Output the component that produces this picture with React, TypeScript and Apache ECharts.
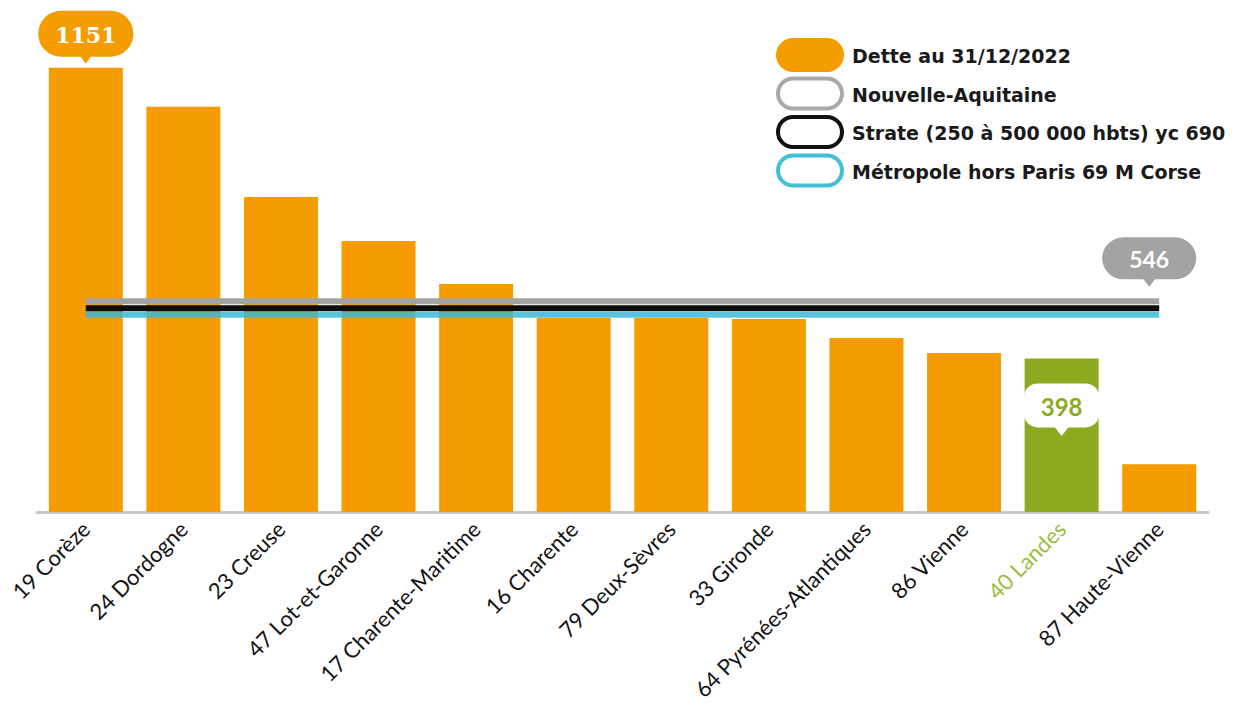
import React, { useEffect, useRef } from "react";
import * as echarts from "echarts";

const categories = [
  "19 Corèze",
  "24 Dordogne",
  "23 Creuse",
  "47 Lot-et-Garonne",
  "17 Charente-Maritime",
  "16 Charente",
  "79 Deux-Sèvres",
  "33 Gironde",
  "64 Pyrénées-Atlantiques",
  "86 Vienne",
  "40 Landes",
  "87 Haute-Vienne",
];
const dette = [1151, 1050, 816, 702, 591, 503, 503, 500, 451, 412, 398, 124];
const highlightIndex = 10;
const maxIndex = 0;
const nouvelleAquitaine = 546;
const strate = 528;
const metropole = 511;

const legendItems = [
  { name: "Dette au 31/12/2022", fill: "#F59C00", stroke: "#F59C00" },
  { name: "Nouvelle-Aquitaine", fill: "#ffffff", stroke: "#a9a9a9" },
  { name: "Strate (250 à 500 000 hbts) yc 690", fill: "#ffffff", stroke: "#111111" },
  { name: "Métropole hors Paris 69 M Corse", fill: "#ffffff", stroke: "#45bfd6" },
];

const ORANGE = "#F59C00";
const GREEN = "#8BAA1F";
const GREY = "#a3a3a3";

export default function App() {
  const ref = useRef<HTMLDivElement>(null);
  useEffect(() => {
    document.body.style.margin = "0";
    const chart = echarts.init(ref.current!, null, { renderer: "svg" });
    const barData = dette.map((v, i) => {
      if (i === maxIndex) {
        return {
          value: v,
          label: {
            show: true,
            position: "top",
            distance: 11,
            formatter: "{c}",
            backgroundColor: ORANGE,
            borderRadius: 23,
            padding: [10, 17, 8, 17],
            color: "#fff",
            fontSize: 22,
            lineHeight: 28,
            fontWeight: "bold",
            fontFamily: "DejaVu Serif",
          },
        };
      }
      if (i === highlightIndex) {
        return {
          value: v,
          itemStyle: { color: GREEN },
          label: {
            show: true,
            position: "insideTop",
            distance: 25,
            formatter: "{c}",
            backgroundColor: "#fff",
            borderRadius: 14,
            padding: [9, 17, 7, 17],
            color: GREEN,
            fontSize: 24,
            lineHeight: 28,
            fontWeight: "bold",
            fontFamily: "Lato",
          },
        };
      }
      return v;
    });
    const lineSeries = (name: string, value: number, color: string, opacity: number, extra: any = {}) => ({
      name,
      type: "line",
      data: categories.map(() => value),
      symbol: "none",
      lineStyle: { color, width: 6, opacity },
      z: 5,
      silent: true,
      ...extra,
    });
    const option: any = {
      animation: false,
      grid: { left: 37, right: 40, top: 20, bottom: 210 },
      xAxis: {
        type: "category",
        data: categories.map((c, i) =>
          i === highlightIndex ? { value: c, textStyle: { color: "#9dbb3c" } } : c
        ),
        axisTick: { show: false },
        axisLine: { lineStyle: { color: "#c9c9c9", width: 3 } },
        axisLabel: {
          interval: 0,
          rotate: 45,
          margin: 13,
          fontSize: 22,
          color: "#141414",
          fontFamily: "Lato",
        },
      },
      yAxis: { type: "value", min: 0, max: 1275, show: false },
      series: [
        {
          name: "Dette au 31/12/2022",
          type: "bar",
          data: barData,
          barWidth: 74,
          itemStyle: { color: ORANGE },
          silent: true,
          markPoint: {
            silent: true,
            data: [
              {
                coord: [maxIndex, dette[maxIndex]],
                symbol: "triangle",
                symbolRotate: 180,
                symbolSize: [14, 10],
                symbolOffset: [0, -9],
                itemStyle: { color: ORANGE },
                label: { show: false },
              },
              {
                coord: [highlightIndex, dette[highlightIndex]],
                symbol: "triangle",
                symbolRotate: 180,
                symbolSize: [14, 9],
                symbolOffset: [0, 73],
                itemStyle: { color: "#fff" },
                label: { show: false },
              },
            ],
          },
        },
        lineSeries("Nouvelle-Aquitaine", nouvelleAquitaine, GREY, 1, {
          markPoint: {
            silent: true,
            data: [
              {
                coord: [categories.length - 1, nouvelleAquitaine],
                symbol: "circle",
                symbolSize: 0,
                label: {
                  show: true,
                  formatter: String(nouvelleAquitaine),
                  position: "top",
                  distance: 22,
                  offset: [-10, 0],
                  backgroundColor: GREY,
                  borderRadius: 21,
                  padding: [8, 27, 6, 27],
                  color: "#fff",
                  fontSize: 23,
                  lineHeight: 28,
                  fontWeight: "bold",
                  fontFamily: "Lato",
                },
              },
              {
                coord: [categories.length - 1, nouvelleAquitaine],
                symbol: "triangle",
                symbolRotate: 180,
                symbolSize: [14, 9],
                symbolOffset: [-10, -19],
                itemStyle: { color: GREY },
                label: { show: false },
              },
            ],
          },
        }),
        lineSeries("Strate (250 à 500 000 hbts) yc 690", strate, "#0d0d0d", 1),
        lineSeries("Métropole hors Paris 69 M Corse", metropole, "#3fb9d3", 0.85),
      ],
      graphic: legendItems.flatMap((it, i) => {
        const cy = 55 + i * 38.5;
        return [
          {
            type: "rect",
            shape: { x: 778, y: cy - 15, width: 64, height: 30, r: 15 },
            style: { fill: it.fill, stroke: it.stroke, lineWidth: 4 },
            silent: true,
          },
          {
            type: "text",
            x: 852,
            y: cy + 1,
            style: {
              text: it.name,
              fill: "#1a1a1a",
              font: "bold 19px 'DejaVu Sans'",
              verticalAlign: "middle",
              align: "left",
            },
            silent: true,
          },
        ];
      }),
    };
    chart.setOption(option);
    return () => chart.dispose();
  }, []);
  return <div ref={ref} style={{ width: 1248, height: 722 }} />;
}
